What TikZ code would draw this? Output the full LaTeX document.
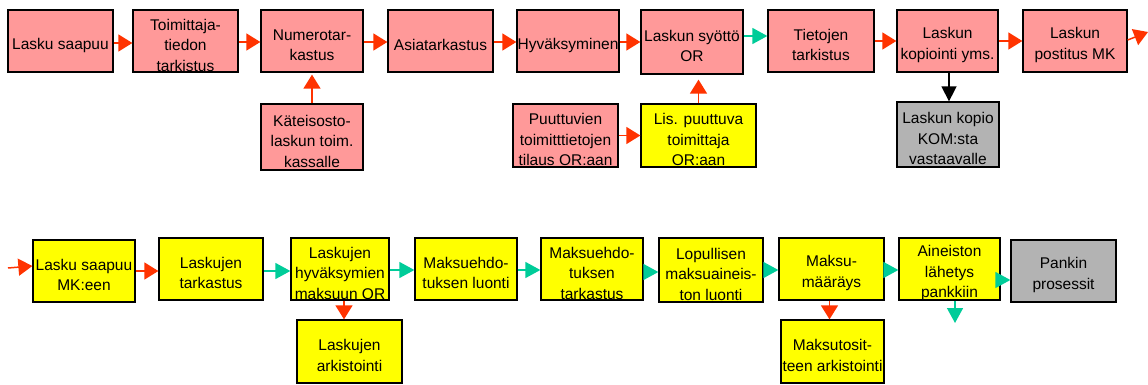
\documentclass[tikz,border=0pt]{standalone}
\usepackage{fontspec}
\setmainfont{Liberation Sans}
\usetikzlibrary{arrows.meta}
\definecolor{pinkf}{HTML}{FF9999}
\definecolor{yelf}{HTML}{FFFF00}
\definecolor{grayf}{HTML}{B3B3B3}
\definecolor{redarr}{HTML}{FF3300}
\definecolor{tealarr}{HTML}{00CC99}
\tikzset{
  box/.style={draw=black,line width=1.3pt,inner sep=0pt,rectangle},
  txt/.style={align=center,font=\fontsize{15.5}{20.5}\selectfont,inner sep=0pt},
  ra/.style={draw=redarr,line width=1.5pt,-{Triangle[length=14pt,width=17pt]}},
  ta/.style={draw=tealarr,line width=1.5pt,-{Triangle[length=15pt,width=16pt]}},
  ka/.style={draw=black,line width=1.5pt,-{Triangle[length=15pt,width=15pt]}},
}
\newcommand\bx[7]{%
  \node[box,fill=#6,minimum width={(#4-#2)*1pt},minimum height={(#5-#3)*1pt}] (#1) at ({(#2+#4)/2},{(#3+#5)/2}) {};
  \node[txt] at ([yshift=-4pt]#1.center) {#7};
}
\begin{document}
\begin{tikzpicture}[x=1pt,y=-1pt]
\useasboundingbox (0,0) rectangle (1148,385);
% top row
\bx{T1}{8}{10}{113}{72}{pinkf}{Lasku saapuu}
\bx{T2}{133}{10}{238}{72}{pinkf}{Toimittaja-\\tiedon\\tarkistus}
\bx{T3}{261}{10}{363}{72}{pinkf}{Numerotar-\\kastus}
\bx{T4}{388}{10}{493}{72}{pinkf}{Asiatarkastus}
\bx{T5}{517}{10}{619}{72}{pinkf}{Hyväksyminen}
\bx{T6}{641}{10}{743}{74}{pinkf}{Laskun syöttö\\OR}
\bx{T7}{768}{10}{874}{72}{pinkf}{Tietojen\\tarkistus}
\bx{T8}{897}{10}{998}{72}{pinkf}{Laskun\\kopiointi yms.}
\bx{T9}{1023}{10}{1127}{72}{pinkf}{Laskun\\postitus MK}
\bx{K}{261}{104}{363}{170}{pinkf}{Käteisosto-\\laskun toim.\\kassalle}
\bx{P}{513}{104}{618}{167}{pinkf}{Puuttuvien\\toimitttietojen\\tilaus OR:aan}
\bx{L}{641}{104}{756}{167}{yelf}{Lis. puuttuva\\toimittaja\\OR:aan}
\bx{C}{897}{102}{999}{167}{grayf}{Laskun kopio\\KOM:sta\\vastaavalle}
% bottom row
\bx{B1}{33}{240}{135}{302}{yelf}{Lasku saapuu\\MK:een}
\bx{B2}{159}{238}{263}{300}{yelf}{Laskujen\\tarkastus}
\bx{B3}{291}{238}{389}{300}{yelf}{Laskujen\\hyväksymien\\maksuun OR}
\bx{B4}{415}{238}{517}{300}{yelf}{Maksuehdo-\\tuksen luonti}
\bx{B5}{541}{238}{643}{300}{yelf}{Maksuehdo-\\tuksen\\tarkastus}
\bx{B6}{659}{238}{763}{302}{yelf}{Lopullisen\\maksuaineis-\\ton luonti}
\bx{B7}{779}{238}{884}{300}{yelf}{Maksu-\\määräys}
\bx{B8}{899}{238}{1000}{300}{yelf}{Aineiston\\lähetys\\pankkiin}
\bx{B9}{1011}{240}{1116}{302}{grayf}{Pankin\\prosessit}
\bx{A1}{297}{320}{402}{383}{yelf}{Laskujen\\arkistointi}
\bx{A2}{781}{320}{884}{383}{yelf}{Maksutosit-\\teen arkistointi}
% top connectors
\draw[ra] ([yshift=-2pt]T1.east) -- ([yshift=-2pt]T1.east -| T2.west);
\draw[ra] ([yshift=-1pt]T2.east) -- ([yshift=-1pt]T2.east -| T3.west);
\draw[ra] ([yshift=-1pt]T3.east) -- ([yshift=-1pt]T3.east -| T4.west);
\draw[ra] ([yshift=-1pt]T4.east) -- ([yshift=-1pt]T4.east -| T5.west);
\draw[ra] ([yshift=-1pt]T5.east) -- ([yshift=-1pt]T5.east -| T6.west);
\draw[ta] ([yshift=6pt]T6.east) -- ([yshift=6pt]T6.east -| T7.west);
\draw[ra] (T7.east) -- (T7.east -| T8.west);
\draw[ra] (T8.east) -- (T8.east -| T9.west);
\coordinate (out) at (1148,32);
\draw[ra] ([yshift=1pt]T9.east) -- (out);
\draw[ra] (K.north) -- ([yshift=-2pt]K.north |- T3.south);
\draw[ra] (P.east) -- (P.east -| L.west);
\draw[ra] (L.north) -- ([yshift=-5pt]L.north |- T6.south);
\draw[ka] ([xshift=1.5pt]T8.south) -- ([xshift=1.5pt]T8.south |- C.north);
% bottom connectors
\coordinate (in) at (8,268);
\draw[ra] (in) -- ([yshift=5pt]B1.west);
\draw[ra] (B1.east) -- (B1.east -| B2.west);
\draw[ta] ([yshift=-2pt]B2.east) -- ([yshift=-2pt]B2.east -| B3.west);
\draw[ta] ([yshift=-1pt]B3.east) -- ([yshift=-1pt]B3.east -| B4.west);
\draw[ta] ([yshift=-1pt]B4.east) -- ([yshift=-1pt]B4.east -| B5.west);
\draw[ta] ([yshift=-3pt]B5.east) -- ([yshift=-3pt]B5.east -| B6.west);
\draw[ta] (B6.east) -- (B6.east -| B7.west);
\draw[ta] ([yshift=-1pt]B7.east) -- ([yshift=-1pt]B7.east -| B8.west);
\draw[ta] ([yshift=-11pt]B8.east) -- ([yshift=-11pt]B8.east -| B9.west);
\draw[ra] ([xshift=4pt]B3.south) -- ([xshift=4pt]B3.south |- A1.north);
\draw[ra] ([xshift=-2pt]B7.south) -- ([xshift=-2pt]B7.south |- A2.north);
\coordinate (dn) at (955,323);
\draw[ta] ([xshift=5.5pt]B8.south) -- (dn);
\end{tikzpicture}
\end{document}
